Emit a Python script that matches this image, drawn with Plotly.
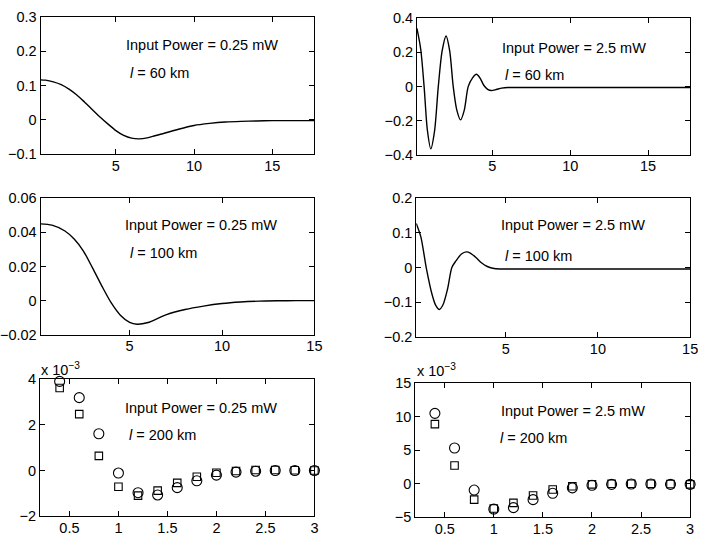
import plotly.graph_objects as go

# ---- pulse tails, 60 km ----
x60 = [0.18, 0.5, 1.0, 1.5, 2.0, 2.5, 3.0, 3.5, 4.0, 4.5, 5.0, 5.5, 6.0, 6.5, 7.0,
       7.5, 8.0, 9.0, 10.0, 11.0, 12.0, 13.0, 14.0, 15.0, 16.0, 17.0, 17.7]
y60_low = [0.117, 0.116, 0.111, 0.103, 0.090, 0.073, 0.052, 0.030, 0.008, -0.012,
           -0.031, -0.045, -0.053, -0.055, -0.052, -0.046, -0.040, -0.027, -0.016,
           -0.010, -0.006, -0.004, -0.003, -0.002, -0.002, -0.002, -0.002]

x60_high = [0.16, 0.4, 0.62, 0.83, 1.05, 1.29, 1.53, 1.78, 2.03, 2.26, 2.49, 2.72,
            2.96, 3.2, 3.45, 3.72, 3.98, 4.21, 4.45, 4.7, 4.94, 5.25, 5.6, 6.0,
            7.0, 9.0, 11.0, 13.0, 15.0, 17.7]
y60_high = [0.340, 0.220, 0.000, -0.255, -0.364, -0.260, 0.000, 0.210, 0.296, 0.210,
            0.000, -0.137, -0.194, -0.137, 0.000, 0.050, 0.072, 0.050, 0.008, -0.016,
            -0.023, -0.017, -0.009, -0.005, -0.005, -0.005, -0.005, -0.005, -0.005, -0.005]

# ---- pulse tails, 100 km ----
x100 = [0.18, 0.8, 1.5, 2.0, 2.5, 3.0, 3.5, 4.0, 4.5, 5.0, 5.4, 6.0, 6.5, 7.0,
        8.0, 9.0, 10.0, 11.0, 12.0, 13.0, 14.0, 15.0]
y100_low = [0.0449, 0.0441, 0.0407, 0.0360, 0.0290, 0.0190, 0.0085, -0.0012,
            -0.0085, -0.0127, -0.0138, -0.0128, -0.0105, -0.0082, -0.0052, -0.0032,
            -0.0017, -0.0008, -0.0003, -0.0001, 0.0, 0.0]

x100_high = [0.15, 0.4, 0.69, 1.0, 1.2, 1.4, 1.6, 1.85, 2.08, 2.3, 2.6, 2.86, 3.1,
             3.4, 3.7, 4.0, 4.3, 4.7, 5.5, 7.0, 9.0, 11.0, 13.0, 15.0]
y100_high = [0.127, 0.088, 0.000, -0.076, -0.108, -0.1205, -0.107, -0.061, 0.000,
             0.019, 0.039, 0.045, 0.041, 0.028, 0.013, 0.003, -0.002, -0.004,
             -0.004, -0.004, -0.004, -0.004, -0.004, -0.004]

# ---- 200 km, sampled values (circles / squares) ----
x200 = [0.4, 0.6, 0.8, 1.0, 1.2, 1.4, 1.6, 1.8, 2.0, 2.2, 2.4, 2.6, 2.8, 3.0]
c200_low = [3.90e-3, 3.19e-3, 1.61e-3, -0.11e-3, -0.97e-3, -1.07e-3, -0.75e-3,
            -0.45e-3, -0.20e-3, -0.07e-3, -0.03e-3, 0.0, 0.0, 0.0]
s200_low = [3.61e-3, 2.47e-3, 0.64e-3, -0.71e-3, -1.10e-3, -0.88e-3, -0.54e-3,
            -0.27e-3, -0.10e-3, -0.02e-3, 0.02e-3, 0.02e-3, 0.01e-3, 0.0]
c200_high = [10.5e-3, 5.33e-3, -0.95e-3, -3.80e-3, -3.57e-3, -2.38e-3, -1.43e-3,
             -0.62e-3, -0.24e-3, -0.10e-3, -0.05e-3, -0.05e-3, -0.10e-3, -0.10e-3]
s200_high = [8.9e-3, 2.71e-3, -2.38e-3, -3.70e-3, -2.86e-3, -1.76e-3, -0.86e-3,
             -0.38e-3, -0.10e-3, 0.0, 0.0, 0.0, -0.05e-3, -0.10e-3]

# ---- panel labels ----
power_labels = ["Input Power = 0.25 mW", "Input Power = 2.5 mW"]
length_labels = ["60 km", "100 km", "200 km"]

# ---- tick definitions ----
yt_tl = [-0.1, 0, 0.1, 0.2, 0.3]
yt_tr = [-0.4, -0.2, 0, 0.2, 0.4]
yt_ml = [-0.02, 0, 0.02, 0.04, 0.06]
yt_mr = [-0.2, -0.1, 0, 0.1, 0.2]
yt_bl = [-2e-3, 0, 2e-3, 4e-3]
yt_bl_text = ["\u22122", "0", "2", "4"]
yt_br = [-5e-3, 0, 5e-3, 10e-3, 15e-3]
yt_br_text = ["\u22125", "0", "5", "10", "15"]
xt_long = [5, 10, 15]
xt_short = [0.5, 1, 1.5, 2, 2.5, 3]
xt_short_text = ["0.5", "1", "1.5", "2", "2.5", "3"]

W, H = 710, 548
FONT = "Liberation Sans, Arial, Helvetica, sans-serif"


def px_dom_x(a, b):
    return [a / W, b / W]


def px_dom_y(top, bottom):
    return [1 - bottom / H, 1 - top / H]


fig = go.Figure()
line_style = dict(color="black", width=1.4, shape="spline", smoothing=0.8)

fig.add_trace(go.Scatter(x=x60, y=y60_low, mode="lines", line=line_style,
                         xaxis="x", yaxis="y"))
fig.add_trace(go.Scatter(x=x60_high, y=y60_high, mode="lines", line=line_style,
                         xaxis="x2", yaxis="y2"))
fig.add_trace(go.Scatter(x=x100, y=y100_low, mode="lines", line=line_style,
                         xaxis="x3", yaxis="y3"))
fig.add_trace(go.Scatter(x=x100_high, y=y100_high, mode="lines", line=line_style,
                         xaxis="x4", yaxis="y4"))

circ = dict(symbol="circle-open", size=10, color="black", line=dict(width=1.1, color="black"))
sq = dict(symbol="square-open", size=7.5, color="black", line=dict(width=1.1, color="black"))
for xa, ya, cy, sy in (("x5", "y5", c200_low, s200_low), ("x6", "y6", c200_high, s200_high)):
    fig.add_trace(go.Scatter(x=x200, y=sy, mode="markers", marker=sq,
                             xaxis=xa, yaxis=ya, cliponaxis=False))
    fig.add_trace(go.Scatter(x=x200, y=cy, mode="markers", marker=circ,
                             xaxis=xa, yaxis=ya, cliponaxis=False))

axis_common = dict(showline=True, linecolor="black", linewidth=1, mirror="allticks",
                   ticks="inside", ticklen=5, tickwidth=1, tickcolor="black",
                   showgrid=False, zeroline=False,
                   tickfont=dict(family=FONT, size=14.5, color="black"))

panels = [
    # (x-domain px, y-domain px, x-range, y-range, xticks, xtext, yticks, ytext)
    ((41, 318), (9.3, 150.7), [0.18, 17.7], [-0.1, 0.3], xt_long, None, yt_tl, None),
    ((421.7, 698), (10.5, 151.5), [0.16, 17.7], [-0.4, 0.4], xt_long, None, yt_tr, None),
    ((41, 318), (195.7, 336.7), [0.18, 15], [-0.02, 0.06], xt_long, None, yt_ml, None),
    ((421, 698), (195.7, 339), [0.15, 15], [-0.2, 0.2], xt_long, None, yt_mr, None),
    ((40.5, 318), (382.3, 523.5), [0.2, 3.0], [-2e-3, 4e-3], xt_short, xt_short_text, yt_bl, yt_bl_text),
    ((420, 698), (386.5, 524.5), [0.2, 3.0], [-5e-3, 15e-3], xt_short, xt_short_text, yt_br, yt_br_text),
]

layout = dict(width=W, height=H, margin=dict(l=0, r=0, t=0, b=0),
              paper_bgcolor="white", plot_bgcolor="white", showlegend=False)
for i, (dx, dy, xr, yr, xt, xtt, yt, ytt) in enumerate(panels, start=1):
    sfx = "" if i == 1 else str(i)
    xa = dict(axis_common, domain=px_dom_x(*dx), range=xr, tickvals=xt,
              anchor="y" + sfx, ticklabelstandoff=-2)
    if xtt is not None:
        xa["ticktext"] = xtt
    ya = dict(axis_common, domain=px_dom_y(*dy), range=yr, tickvals=yt,
              anchor="x" + sfx)
    if ytt is not None:
        ya["ticktext"] = ytt
    layout["xaxis" + sfx] = xa
    layout["yaxis" + sfx] = ya

fig.update_layout(**layout)

# in-panel text: power line and fibre length line
text_pos = [
    ((125, 38), (129, 67)),
    ((505.7, 40.7), (509, 69)),
    ((124.3, 224), (129, 252.7)),
    ((504.3, 224), (509, 255)),
    ((124, 411.7), (128.3, 440)),
    ((504.3, 415), (504, 443.3)),
]
for k, ((px1, py1), (px2, py2)) in enumerate(text_pos):
    p_txt = power_labels[k % 2]
    l_txt = "<i>l</i> = " + length_labels[k // 2]
    fig.add_annotation(x=px1 / W, y=1 - py1 / H, xref="paper", yref="paper",
                       text=p_txt, showarrow=False, xanchor="left", yanchor="middle",
                       font=dict(family=FONT, size=14.5, color="black"))
    fig.add_annotation(x=px2 / W, y=1 - py2 / H, xref="paper", yref="paper",
                       text=l_txt, showarrow=False, xanchor="left", yanchor="middle",
                       font=dict(family=FONT, size=14.5, color="black"))

# exponent labels above the 200 km panels
for px0, base in ((39.5, 383.5), (420, 384.5)):
    fig.add_annotation(x=px0 / W, y=1 - base / H, xref="paper", yref="paper",
                       text="x 10<sup>\u22123</sup>", showarrow=False,
                       xanchor="left", yanchor="bottom",
                       font=dict(family=FONT, size=14.5, color="black"))

fig.write_html("out.html")
